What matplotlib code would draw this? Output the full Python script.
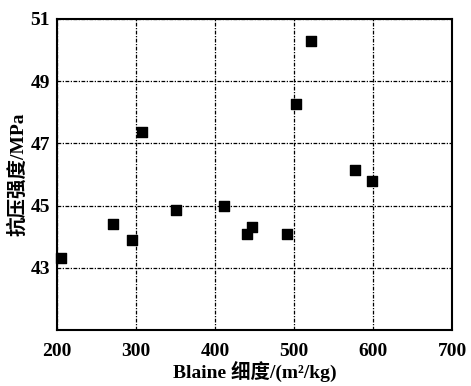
import matplotlib
matplotlib.use("Agg")
import matplotlib.pyplot as plt

blaine = [205, 271, 295, 307, 350, 411, 440, 447, 491, 502, 522, 577, 599]
strength = [43.3, 44.4, 43.9, 47.35, 44.85, 45.0, 44.1, 44.3, 44.1, 48.25, 50.3, 46.15, 45.8]
xticks = [200, 300, 400, 500, 600, 700]
yticks = [43, 45, 47, 49, 51]

plt.rcParams['font.family'] = ['Liberation Serif', 'Noto Sans CJK SC']

fig = plt.figure(figsize=(4.71, 3.86), dpi=100)
ax = fig.add_axes([0.121, 0.145, 0.839, 0.806])
ax.scatter(blaine, strength, marker='s', s=62, color='black', zorder=3, clip_on=False)
ax.set_xlim(200, 700)
ax.set_ylim(41, 51)
ax.set_xticks(xticks)
ax.set_yticks(yticks)
ax.tick_params(axis='x', length=0, labelsize=14, pad=9)
ax.tick_params(axis='y', length=0, labelsize=14, pad=5)
for lbl in ax.get_xticklabels() + ax.get_yticklabels():
    lbl.set_fontweight('bold')
ax.grid(True, color='black', linestyle=(0, (3, 1.2, 1, 1.2)), linewidth=0.9)
for sp in ax.spines.values():
    sp.set_linewidth(1.5)
ax.set_xlabel('Blaine 细度/(m²/kg)', fontsize=14, fontweight='bold',
              family=['Liberation Serif', 'Noto Sans CJK SC'], labelpad=1)
ax.set_ylabel('抗压强度/MPa', fontsize=14, fontweight='bold',
              family=['Liberation Serif', 'Noto Sans CJK SC'], labelpad=2)
fig.savefig('out.png', dpi=100)
